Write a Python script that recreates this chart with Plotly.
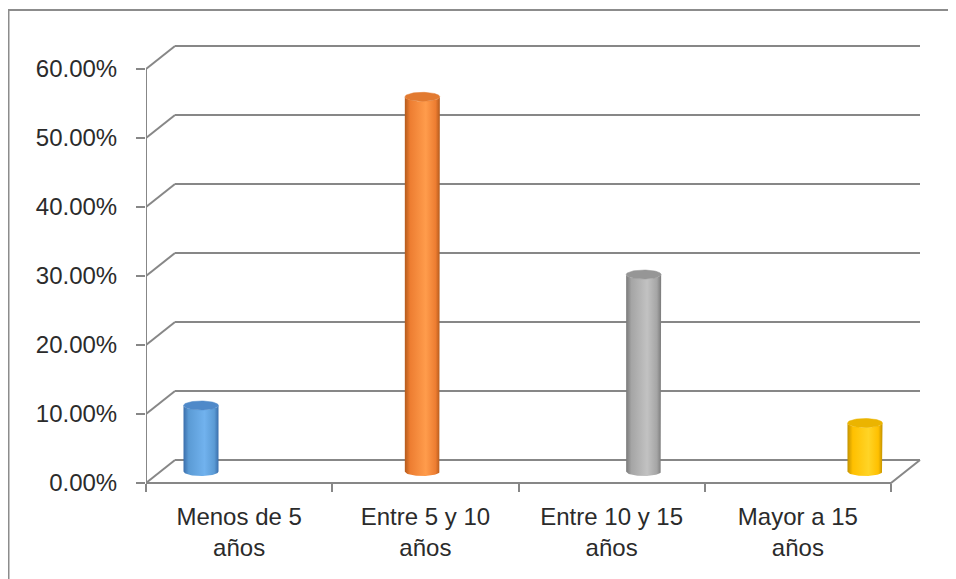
import numpy as np
import plotly.graph_objects as go

# ---------------- data ----------------
categories = ["Menos de 5<br>años", "Entre 5 y 10<br>años", "Entre 10 y 15<br>años", "Mayor a 15<br>años"]
values = [0.0957, 0.543, 0.2855, 0.0703]
y_ticks = [0.0, 0.1, 0.2, 0.3, 0.4, 0.5, 0.6]

# ---------------- styles ----------------
OFF = 8  # page body margin of the generated html
W, H = 956 - OFF, 579 - OFF
FONT = "Liberation Sans, Arial, sans-serif"
TXT = "#2b2b2b"
GRID = "#878787"
dark = ["#3a6eab", "#b45a1c", "#7a7a7a", "#c39200"]
light = ["#71b2ee", "#ff9c4c", "#c2c2c2", "#ffd426"]
mid = ["#5b9bd5", "#ed7d31", "#a5a5a5", "#ffc000"]
topc = ["#4f89c9", "#e27a30", "#969696", "#ebb400"]

# pixel geometry of the pseudo-3D frame (figure pixel coords)
px_left, px_zero, px_per_unit_x = 146 - OFF, 483 - OFF, 186.25
px_per_unit_y = 690.0
depth_dx_px, depth_dy_px = 29, 23
dx = depth_dx_px / px_per_unit_x
dy = depth_dy_px / px_per_unit_y

x_range = [-0.5, -0.5 + (W - px_left) / px_per_unit_x]
y_range = [(px_zero - H) / px_per_unit_y, px_zero / px_per_unit_y]

# bar (cylinder) axis: perspective spacing
bar_px0, bar_px_step = 201 - OFF, 221.33
x2_range = [(px_left - bar_px0) / bar_px_step, (W - bar_px0) / bar_px_step]
y2_range = [y_range[0] - dy / 2, y_range[1] - dy / 2]
half_w = 17.5 / bar_px_step
ry = 4.5 / px_per_unit_y

fig = go.Figure()

# ---- walls / floor gridlines ----
n = len(categories)
gx, gy = [], []
x0, x1 = -0.5, n - 0.5
for v in y_ticks:
    gx += [x0 + dx, x1 + dx, None]
    gy += [v + dy, v + dy, None]
    gx += [x0, x0 + dx, None]
    gy += [v, v + dy, None]
gx += [x0, x0, None]
gy += [y_ticks[0], y_ticks[-1], None]
gx += [x0, x1, x1 + dx, None]
gy += [0, 0, dy, None]
fig.add_trace(go.Scatter(x=gx, y=gy, mode="lines", line=dict(color=GRID, width=2),
                         hoverinfo="skip", showlegend=False))

# ---- cylinders ----
t = np.linspace(0, np.pi, 40)
tt = np.linspace(0, 2 * np.pi, 80)
for i, v in enumerate(values):
    xc = i
    bx = [xc - half_w, xc - half_w]
    by = [0, v]
    bx += list(xc - half_w * np.cos(t))
    by += list(v - ry * np.sin(t))
    bx += [xc + half_w]
    by += [0]
    bx += list(xc + half_w * np.cos(t))
    by += list(0 - ry * np.sin(t))
    fig.add_trace(go.Scatter(
        x=bx, y=by, xaxis="x2", yaxis="y2", mode="lines", fill="toself",
        line=dict(width=0, color=mid[i]),
        fillgradient=dict(type="horizontal",
                          colorscale=[[0, dark[i]], [0.15, mid[i]], [0.6, light[i]],
                                      [0.88, mid[i]], [1, dark[i]]]),
        hoverinfo="skip", showlegend=False))
    fig.add_trace(go.Scatter(
        x=list(xc + half_w * np.cos(tt)), y=list(v + ry * np.sin(tt)),
        xaxis="x2", yaxis="y2", mode="lines", fill="toself",
        line=dict(width=0.5, color=topc[i]), fillcolor=topc[i],
        hoverinfo="skip", showlegend=False))

fig.update_layout(
    width=W, height=H, autosize=False,
    margin=dict(l=0, r=0, t=0, b=0),
    paper_bgcolor="white", plot_bgcolor="white",
    font=dict(family=FONT, size=24, color=TXT),
    xaxis=dict(
        domain=[px_left / W, 1], range=x_range, anchor="free",
        position=(H - px_zero) / H,
        tickmode="array", tickvals=list(range(n)), ticktext=categories,
        ticks="", showgrid=False, zeroline=False, showline=False,
        ticklabelstandoff=17,
        minor=dict(tickmode="array", tickvals=[k - 0.5 for k in range(n + 1)],
                   ticks="outside", ticklen=8, tickcolor=GRID, tickwidth=2, showgrid=False),
        fixedrange=True,
    ),
    yaxis=dict(
        domain=[0, 1], range=y_range, anchor="x",
        tickmode="array", tickvals=y_ticks, tickformat=".2%",
        ticks="outside", ticklen=9, tickcolor=GRID, tickwidth=2,
        ticklabelstandoff=14,
        showgrid=False, zeroline=False, showline=False, fixedrange=True,
    ),
    xaxis2=dict(overlaying="x", range=x2_range, visible=False, fixedrange=True),
    yaxis2=dict(overlaying="y", range=y2_range, visible=False, fixedrange=True),
    shapes=[dict(type="rect", xref="paper", yref="paper",
                 x0=0.5 / W, x1=1.02, y0=-0.02, y1=1 - 2 / H,
                 line=dict(color="#8c8c8c", width=2), layer="below")],
)

fig.write_html("out.html")
